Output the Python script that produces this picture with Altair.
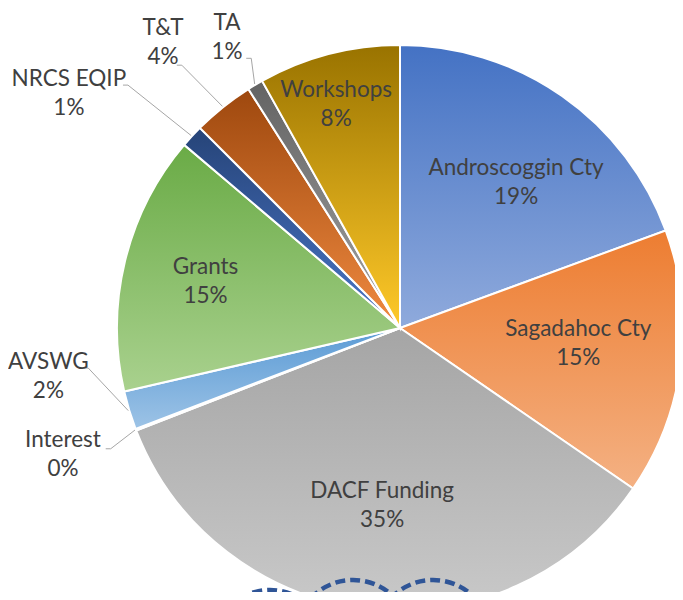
import altair as alt
import pandas as pd

# ---- data ----
CATEGORIES = ["Androscoggin Cty", "Sagadahoc Cty", "DACF Funding", "Interest", "AVSWG",
              "Grants", "NRCS EQIP", "T&T", "TA", "Workshops"]
VALUES = [19.4, 15.2, 34.5, 0.1, 2.2, 14.8, 1.3, 3.5, 0.9, 8.1]
PCT_LABELS = ["19%", "15%", "35%", "0%", "2%", "15%", "1%", "4%", "1%", "8%"]

# ---- styling / layout (not data) ----
GRADIENTS = {
    "Androscoggin Cty": ("#4472C4", "#8FAADC"),
    "Sagadahoc Cty": ("#ED7D31", "#F4B183"),
    "DACF Funding": ("#A5A5A5", "#C9C9C9"),
    "Interest": ("#FFC000", "#FFD966"),
    "AVSWG": ("#5B9BD5", "#9DC3E6"),
    "Grants": ("#6AAB46", "#A9D18E"),
    "NRCS EQIP": ("#264478", "#4A76C8"),
    "T&T": ("#9E480E", "#F08A40"),
    "TA": ("#636363", "#A3A3A3"),
    "Workshops": ("#997300", "#FFC929"),
}
LABEL_RADIUS = {"Androscoggin Cty": 186, "Sagadahoc Cty": 179, "DACF Funding": 178, "Interest": 360,
                "AVSWG": 355, "Grants": 200, "NRCS EQIP": 406, "T&T": 371, "TA": 338, "Workshops": 232}
LABEL_SHIFT_DEG = {"Androscoggin Cty": 3.7, "Sagadahoc Cty": -2.1, "DACF Funding": -0.9, "Interest": 0.5,
                   "AVSWG": 9.0, "Grants": -0.2, "NRCS EQIP": -7.3, "T&T": -1.0, "TA": 0.0, "Workshops": -1.4}
LEADER = {"Interest": (313.5, -1.6), "AVSWG": (314.3, 9.6), "NRCS EQIP": (364.7, -0.9),
          "T&T": (341.6, -1.0), "TA": (308.0, 1.9)}

W, H = 667, 584
CX, CY, R = 392, 320, 283
LINE_H = 29

df = pd.DataFrame({
    "cat": CATEGORIES,
    "value": VALUES,
    "order": list(range(len(CATEGORIES))),
    "label": [f"{c}\n{p}" for c, p in zip(CATEGORIES, PCT_LABELS)],
    "lr": [LABEL_RADIUS[c] for c in CATEGORIES],
    "shift": [LABEL_SHIFT_DEG[c] for c in CATEGORIES],
    "lrad": [LEADER.get(c, (0, 0))[0] for c in CATEGORIES],
    "lshift": [LEADER.get(c, (0, 0))[1] for c in CATEGORIES],
})

theta_scale = alt.Scale(domain=[0, 100], range=[0, 6.283185307179586])

base = alt.Chart(df).transform_window(
    cum="sum(value)", sort=[alt.SortField("order", order="ascending")], frame=[None, 0]
).transform_calculate(
    start="datum.cum - datum.value",
    mid="datum.cum - datum.value / 2",
).transform_calculate(
    lab="datum.mid + datum.shift / 3.6",
)

layers = []
for c in CATEGORIES:
    top, bottom = GRADIENTS[c]
    grad = alt.LinearGradient(
        gradient="linear",
        stops=[alt.GradientStop(offset=0, color=top), alt.GradientStop(offset=1, color=bottom)],
        x1=0, x2=0, y1=0, y2=1,
    )
    layers.append(
        base.transform_filter(alt.FieldEqualPredicate(field="cat", equal=c))
        .mark_arc(outerRadius=R, fill=grad, stroke="white", strokeWidth=2)
        .encode(
            theta=alt.Theta("start:Q", scale=theta_scale),
            theta2="cum:Q",
            x=alt.value(CX),
            y=alt.value(CY),
        )
    )

leader_base = base.transform_filter("datum.lrad > 0").transform_calculate(
    a0="datum.mid / 100 * 2 * PI",
    a1="(datum.mid + datum.lshift / 3.6) / 100 * 2 * PI",
).transform_calculate(
    x0=f"{CX} + {R + 1} * sin(datum.a0)",
    y0=f"{CY} - {R + 1} * cos(datum.a0)",
    x1=f"{CX} + datum.lrad * sin(datum.a1)",
    y1=f"{CY} - datum.lrad * cos(datum.a1)",
).transform_calculate(
    xt="datum.x1 - 5",
)

leaders = leader_base.mark_rule(color="#A6A6A6", strokeWidth=1).encode(
    x=alt.X("x0:Q", scale=None), y=alt.Y("y0:Q", scale=None),
    x2="x1:Q", y2="y1:Q",
)
ticks = leader_base.mark_rule(color="#A6A6A6", strokeWidth=1).encode(
    x=alt.X("x1:Q", scale=None), y=alt.Y("y1:Q", scale=None),
    x2="xt:Q", y2="y1:Q",
)

texts = base.mark_text(
    font="Lato", fontSize=22.5, color="#404040", lineBreak="\n", lineHeight=LINE_H,
    align="center", baseline="middle", dy=-LINE_H / 2,
).encode(
    theta=alt.Theta("lab:Q", scale=theta_scale),
    radius=alt.Radius("lr:Q", scale=None),
    text="label:N",
    x=alt.value(CX),
    y=alt.value(CY),
)

# decorative dashed rings at the bottom of the slide
RING_X = [262, 345, 425]
RING_Y = [640, 630, 630]
rings = alt.Chart(pd.DataFrame({"rx": RING_X, "ry": RING_Y})).mark_point(
    shape="circle", size=13456, filled=False, stroke="#2F5597", strokeWidth=4.5,
    strokeDash=[10, 5], opacity=1,
).encode(x=alt.X("rx:Q", scale=None), y=alt.Y("ry:Q", scale=None))

chart = alt.layer(*layers, leaders, ticks, texts, rings).properties(
    width=W, height=H, padding=0, autosize=alt.AutoSizeParams(type="none"),
).configure_view(stroke=None)

chart.save("out.html", embed_options={"renderer": "svg", "actions": False})
